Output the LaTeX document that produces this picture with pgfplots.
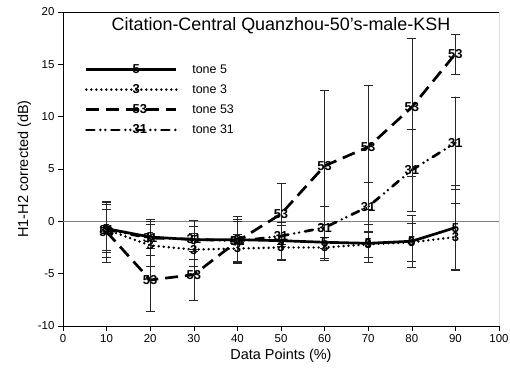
\documentclass[border=0pt]{standalone}
\usepackage{pgfplots}
\pgfplotsset{compat=1.18}
\usepackage{fontspec}
\setmainfont{Liberation Sans}
\begin{document}
\begin{tikzpicture}
\pgfplotstableread{
x y e
10 -0.7 2.3
20 -1.5 1.7
30 -1.75 1.9
40 -1.75 2.2
50 -1.85 1.8
60 -2.0 1.7
70 -2.1 1.8
80 -1.9 2.5
90 -0.6 4.0
}\tonefive
\pgfplotstableread{
x y e
10 -0.8 2.0
20 -2.3 2.0
30 -2.7 1.6
40 -2.6 1.4
50 -2.5 1.2
60 -2.5 1.0
70 -2.2 1.2
80 -2.0 1.8
90 -1.5 3.2
}\tonethree
\pgfplotstableread{
x y e
10 -1.0 2.9
20 -5.6 3.0
30 -5.1 2.4
40 -1.9 2.1
50 0.7 2.9
60 5.3 7.2
70 7.1 5.9
80 10.9 6.6
90 16.0 1.9
}\tonefiftythree
\pgfplotstableread{
x y e
10 -0.8 2.6
20 -1.6 1.6
30 -1.7 1.2
40 -1.9 1.9
50 -1.4 1.0
60 -0.6 2.0
70 1.4 2.3
80 4.9 3.9
90 7.5 4.4
}\tonethirtyone
\begin{axis}[
  name=ax,
  scale only axis,
  width=436bp, height=314bp,
  xmin=0, xmax=100, ymin=-10, ymax=20,
  xtick={0,10,...,100}, ytick={-10,-5,...,20},
  axis x line*=bottom, axis y line*=left,
  separate axis lines,
  tick align=outside, major tick length=5bp,
  tick style={black, line width=0.5pt},
  axis line style={black, line width=0.6pt},
  every outer x axis line/.append style={-},
  every outer y axis line/.append style={-},
  /pgf/number format/assume math mode=true,
  ticklabel style={font=\fontsize{11.5}{13}\selectfont},
  xlabel={Data Points (\%)},
  ylabel={H1-H2 corrected (dB)},
  label style={font=\fontsize{14.5}{16}\selectfont},
  title={Citation-Central Quanzhou-50's-male-KSH},
  title style={font=\fontsize{18}{20}\selectfont, at={(0.5,1)}, anchor=north, yshift=-8bp},
  legend style={at={(0.05,0.84)}, anchor=north west, draw=none, fill=none,
    font=\fontsize{12.5}{14}\selectfont, row sep=6bp, inner sep=0pt},
  legend cell align=left,
  legend image code/.code={%
    \path[draw=none] (0bp,0bp) -- (104bp,0bp);
    \draw[mark repeat=2,mark phase=2,#1] plot coordinates {(0bp,0bp) (45bp,0bp) (90bp,0bp)};},
  text mark as node=true,
  text mark style={font=\fontsize{13}{14}\selectfont\bfseries, inner sep=0pt},
  error bars/y dir=both, error bars/y explicit,
  error bars/error bar style={black!85, line width=0.5pt, solid},
  error bars/error mark options={black!85, line width=0.5pt, solid, mark size=4.5bp, rotate=90},
]
\addplot[gray, line width=0.6pt, forget plot, mark=none, error bars/y dir=none] coordinates {(0,0) (100,0)};
\draw[black, line width=0.6pt] (rel axis cs:0,1) -- (rel axis cs:1,1) -- (rel axis cs:1,0);
\addplot[black, line width=2.7bp, solid, mark=text, text mark={5}, mark options={solid}]
  table[x=x, y=y, y error=e] {\tonefive};
\addlegendentry{tone 5}
\addplot[black, line width=2.7bp, line cap=round, dash pattern=on 0bp off 5bp, mark=text, text mark={3}, mark options={solid}]
  table[x=x, y=y, y error=e] {\tonethree};
\addlegendentry{tone 3}
\addplot[black, line width=2.7bp, dash pattern=on 13bp off 7bp, mark=text, text mark={53}, mark options={solid}]
  table[x=x, y=y, y error=e] {\tonefiftythree};
\addlegendentry{tone 53}
\addplot[black, line width=2.7bp, line cap=round, dash pattern=on 8bp off 6bp on 0bp off 5bp on 0bp off 6bp, mark=text, text mark={31}, mark options={solid}]
  table[x=x, y=y, y error=e] {\tonethirtyone};
\addlegendentry{tone 31}
\end{axis}
\pgfresetboundingbox
\path ([shift={(-63bp,-56bp)}]ax.south west) rectangle ([shift={(11bp,12bp)}]ax.north east);
\end{tikzpicture}
\end{document}
